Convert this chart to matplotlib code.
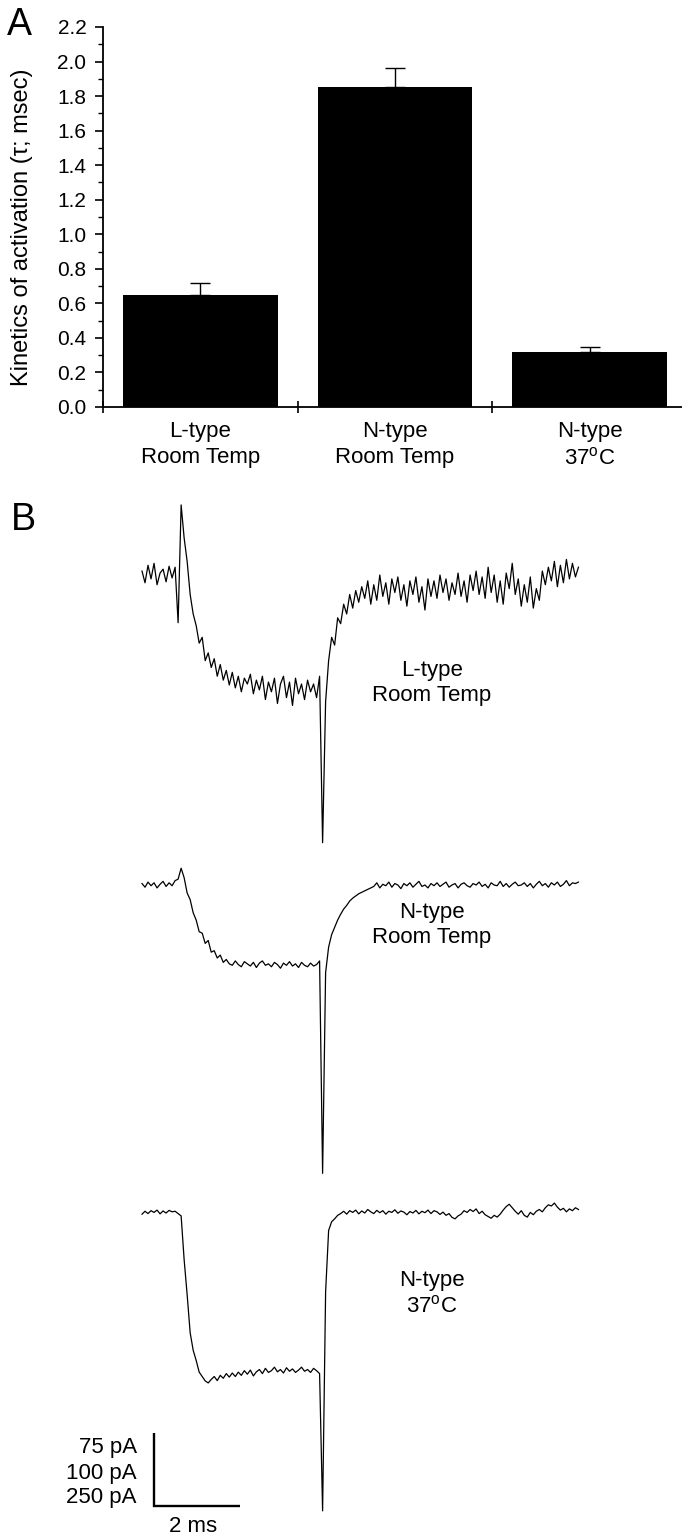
# coding=utf-8

import numpy as np
import matplotlib
matplotlib.use('Agg')
import matplotlib.pyplot as plt

plt.rcParams['font.family'] = ['Liberation Sans', 'DejaVu Sans']
plt.rcParams['mathtext.fontset'] = 'custom'
plt.rcParams['mathtext.rm'] = 'Liberation Sans'
plt.rcParams['mathtext.it'] = 'Liberation Sans:italic'

# ---- panel A: activation time constants ----
groups = ['L-type\nRoom Temp', 'N-type\nRoom Temp', 'N-type\n37$^{\\rm o}$C']
tau_mean = [0.65, 1.85, 0.32]
tau_sem = [0.07, 0.11, 0.025]

# ---- panel B: example current traces (pA, relative to baseline) ----
scale_pa = [75, 100, 250]   # vertical scale bar for each trace
scale_ms = 2
dt_ms = 0.07

l_room = [
    4, -8, 10, -4, 12, -10, 2, 6, -7, 9,
    -3, 8, -49, 72, 38, 14, -20, -40, -52, -70,
    -64, -88, -80, -95, -86, -104, -92, -108, -98, -113,
    -100, -116, -104, -120, -106, -112, -102, -122, -108, -118,
    -104, -128, -110, -120, -106, -132, -112, -104, -126, -110,
    -134, -106, -122, -112, -128, -108, -120, -112, -126, -104,
    -275, -130, -88, -64, -72, -44, -50, -30, -40, -20,
    -34, -16, -28, -12, -24, -6, -30, -10, -26, 0,
    -22, -8, -30, -4, -18, -2, -26, -10, -32, -6,
    -20, -2, -28, -12, -36, -4, -22, -6, -24, 0,
    -18, -4, -26, -8, -20, 2, -22, -6, -28, 0,
    -16, 4, -20, -2, -24, 8, -18, 0, -28, -6,
    -30, 2, -14, 12, -20, -4, -32, -10, -28, -2,
    -34, -14, -26, 4, -10, 8, -6, 14, -12, 10,
    -8, 16, -4, 12, -2, 8,
]

n_room = [
    2, -3, 4, -1, 3, -4, 1, 5, -2, 3,
    -1, 6, 8, 23, 10, -11, -20, -38, -48, -64,
    -66, -80, -76, -92, -90, -100, -96, -106, -102, -108,
    -110, -104, -109, -112, -105, -108, -111, -106, -113, -107,
    -104, -110, -108, -112, -106, -109, -114, -107, -110, -105,
    -111, -108, -113, -106, -110, -112, -107, -111, -109, -104,
    -395, -120, -85, -68, -58, -48, -40, -33, -28, -22,
    -18, -15, -12, -10, -8, -6, -4, -2, 3, -4,
    1, -1, 4, -3, 2, 0, -5, 2, -1, 3,
    -3, 1, 5, -2, 0, -4, 2, -1, 3, -2,
    1, 4, -3, 0, 2, -4, 1, 3, -1, -3,
    2, 0, 4, -2, 1, -4, 3, 0, -1, 5,
    -2, 2, -3, 1, 4, -1, 0, 3, -2, 2,
    -4, 1, 5, -1, 2, -3, 3, 0, 4, -2,
    1, 6, -1, 3, 2, 4,
]

n_37 = [
    -4, 6, -2, 8, 2, 10, -3, 7, 0, 9,
    4, 6, -2, -10, -160, -280, -410, -470, -505, -545,
    -560, -575, -582, -570, -560, -574, -556, -566, -550, -562,
    -548, -560, -545, -556, -540, -552, -538, -558, -544, -536,
    -550, -532, -546, -540, -528, -544, -536, -548, -530, -542,
    -534, -546, -538, -528, -542, -536, -546, -532, -540, -550,
    -1020, -270, -60, -30, -20, -8, -2, 6, -4, 8,
    2, 10, -3, 7, 0, 12, 4, -2, 9, 1,
    8, -4, 6, 2, 11, -1, 7, 3, -6, 5,
    0, 9, -3, 6, 1, 10, -2, 8, 4, -5,
    3, -8, -2, -15, -20, -10, -4, 8, 2, 12,
    5, 14, -2, 6, -6, -12, -18, -8, -14, -4,
    10, 22, 30, 18, 6, -4, 8, -8, -14, 2,
    -6, 6, 12, 4, 18, 28, 24, 34, 20, 10,
    16, 4, 14, 8, 18, 12,
]

traces = [l_room, n_room, n_37]

# ---- layout (pixels of the 682 x 1538 canvas) ----
W, H = 682, 1538


def fx(px):
    return px / W


def fy(py):
    return 1 - py / H


fig = plt.figure(figsize=(W / 100, H / 100), dpi=100)

# panel A
ax = fig.add_axes([fx(103), fy(407), fx(682) - fx(103), (407 - 27) / H])
xpos = np.arange(len(groups))
ax.bar(xpos, tau_mean, width=0.795, color='black', zorder=2)
ax.errorbar(xpos, tau_mean, yerr=[np.zeros(len(tau_sem)), tau_sem], fmt='none',
            ecolor='black', elinewidth=1.0, capsize=7, capthick=1.0, zorder=3)
ax.set_xlim(-0.5, 2.475)
ax.set_ylim(0, 2.2)

for side in ['top', 'right']:
    ax.spines[side].set_visible(False)
for side in ['left', 'bottom']:
    ax.spines[side].set_linewidth(1.3)

yt = [round(i * 0.2, 1) for i in range(12)]
ax.set_yticks(yt)
ax.set_yticklabels([f'{v:.1f}' for v in yt], fontsize=15)
ax.set_yticks([round(0.1 + i * 0.2, 1) for i in range(11)], minor=True)
ax.tick_params(axis='y', which='major', direction='out', length=6, width=1.2, pad=6)
ax.tick_params(axis='y', which='minor', direction='out', length=3.5, width=1.0)

ax.set_xticks([-0.5, 0.5, 1.5])
ax.set_xticklabels([])
ax.set_xticks(xpos, minor=True)
ax.set_xticklabels(groups, minor=True, fontsize=16)
ax.tick_params(axis='x', which='major', direction='inout', length=9, width=1.2)
ax.tick_params(axis='x', which='minor', length=0, pad=10)
for lab in ax.get_xticklabels(minor=True):
    lab.set_linespacing(1.35)

fig.text(fx(22), fy(227), 'Kinetics of activation (\u03c4; msec)', rotation=90,
         ha='center', va='center', fontsize=17)
fig.text(fx(19), fy(25), 'A', ha='center', va='center', fontsize=27)

# panel B
px_per_ms = 43.0
px_per_unit = 73.0
axb = fig.add_axes([0, 0, 1, (H - 480) / H])
axb.set_xlim((0 - 142) / px_per_ms, (W - 142) / px_per_ms)
axb.set_ylim(0, (H - 480) / px_per_unit)
axb.axis('off')

base_px = [575, 885, 1213]
label_px = [(432, 683), (432, 925), (432, 1294)]
for trace, scale, base, (lx, ly), name in zip(traces, scale_pa, base_px, label_px, groups):
    t = np.arange(len(trace)) * dt_ms
    y = (H - base) / px_per_unit + np.array(trace) / scale
    axb.plot(t, y, color='black', lw=0.9)
    fig.text(fx(lx), fy(ly), name, ha='center', va='center', fontsize=16,
             linespacing=1.25)

# scale bar
sb_t = (154 - 142) / px_per_ms
sb_u = (H - 1506) / px_per_unit
axb.plot([sb_t, sb_t, sb_t + scale_ms], [sb_u + 1, sb_u, sb_u], color='black',
         lw=1.7, solid_joinstyle='miter', solid_capstyle='butt')
for k, v in enumerate(scale_pa):
    fig.text(fx(137), fy(1448 + 25 * k), f'{v} pA', ha='right', va='center', fontsize=16)
fig.text(fx(193), fy(1527), f'{scale_ms} ms', ha='center', va='center', fontsize=16)

fig.text(fx(23), fy(520), 'B', ha='center', va='center', fontsize=27)

fig.savefig('out.png', dpi=100)
